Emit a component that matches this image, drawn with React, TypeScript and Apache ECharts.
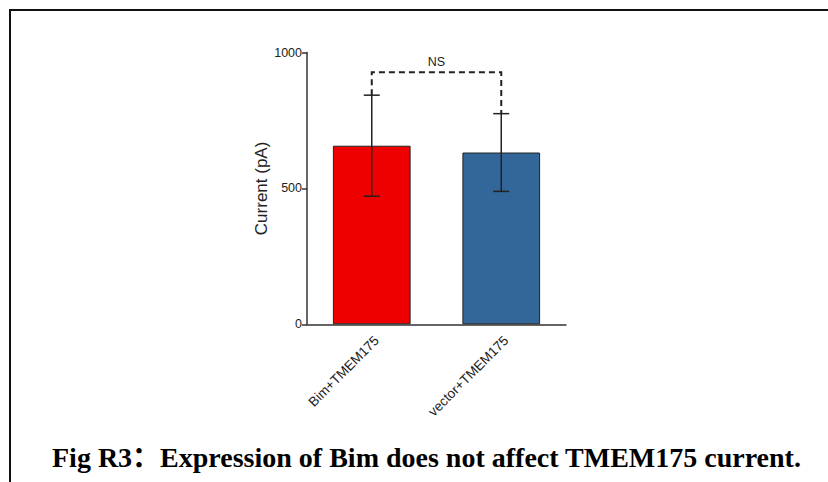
import React, { useEffect, useRef } from "react";
import * as echarts from "echarts";

const categories = ["Bim+TMEM175", "vector+TMEM175"];
const means = [657, 632];
const errors = [186, 143];
const barColors = ["#ee0000", "#336699"];
const yTicks = [0, 500, 1000];
const bracketLevel = 927;
const bracketLabel = "NS";
const yAxisName = "Current (pA)";
const caption = "Fig R3\uFF1AExpression of Bim does not affect TMEM175 current.";

export default function App() {
  const ref = useRef<HTMLDivElement>(null);
  useEffect(() => {
    document.body.style.margin = "0";
    const chart = echarts.init(ref.current!, null, { renderer: "svg" });
    const font = "Liberation Sans, Arial, sans-serif";
    const errData = means.map((m, i) => [i, m - errors[i], m + errors[i]]);
    const option: any = {
      animation: false,
      backgroundColor: "#ffffff",
      grid: { left: 307, right: 262, top: 52.5, bottom: 157.7 },
      xAxis: {
        type: "category",
        data: categories,
        axisLine: { lineStyle: { color: "#333", width: 1.5 } },
        axisTick: { alignWithLabel: true, length: 5, lineStyle: { color: "#333", width: 1.5 } },
        axisLabel: {
          rotate: 45,
          fontFamily: font,
          fontSize: 13.5,
          color: "#222",
          margin: 9,
          verticalAlign: "top",
        },
      },
      yAxis: {
        type: "value",
        min: yTicks[0],
        max: yTicks[yTicks.length - 1],
        interval: yTicks[1] - yTicks[0],
        name: yAxisName,
        nameLocation: "middle",
        nameGap: 36,
        nameTextStyle: { fontFamily: font, fontSize: 17, color: "#222" },
        axisLine: { show: true, lineStyle: { color: "#333", width: 1.5 } },
        axisTick: { show: true, length: 5, lineStyle: { color: "#333", width: 1.5 } },
        axisLabel: {
          fontFamily: font,
          fontSize: 12.5,
          color: "#222",
          margin: 5,
          formatter: (v: number) => String(v),
        },
        splitLine: { show: false },
      },
      series: [
        {
          type: "bar",
          barWidth: "60%",
          data: means.map((v, i) => ({
            value: v,
            itemStyle: { color: barColors[i], borderColor: "#222", borderWidth: 1 },
          })),
          z: 2,
        },
        {
          type: "custom",
          z: 3,
          data: errData,
          renderItem: (params: any, api: any) => {
            const x = api.value(0);
            const lo = api.coord([x, api.value(1)]);
            const hi = api.coord([x, api.value(2)]);
            const hw = 8;
            const style = { stroke: "#222", lineWidth: 1.5, fill: "none" };
            return {
              type: "group",
              children: [
                { type: "line", shape: { x1: hi[0], y1: hi[1], x2: lo[0], y2: lo[1] }, style },
                { type: "line", shape: { x1: hi[0] - hw, y1: hi[1], x2: hi[0] + hw, y2: hi[1] }, style },
                { type: "line", shape: { x1: lo[0] - hw, y1: lo[1], x2: lo[0] + hw, y2: lo[1] }, style },
              ],
            };
          },
        },
        {
          type: "custom",
          z: 3,
          data: [[0, 1, bracketLevel, means[0] + errors[0], means[1] + errors[1]]],
          renderItem: (params: any, api: any) => {
            const a = api.value(0);
            const b = api.value(1);
            const lvl = api.value(2);
            const p1 = api.coord([a, api.value(3)]);
            const p2 = api.coord([a, lvl]);
            const p3 = api.coord([b, lvl]);
            const p4 = api.coord([b, api.value(4)]);
            return {
              type: "group",
              children: [
                {
                  type: "polyline",
                  shape: { points: [p1, p2, p3, p4] },
                  style: { stroke: "#222", lineWidth: 2, fill: "none", lineDash: [6, 4] },
                },
                {
                  type: "text",
                  x: (p2[0] + p3[0]) / 2,
                  y: p2[1] - 4,
                  style: {
                    text: bracketLabel,
                    fontFamily: font,
                    fontSize: 12.5,
                    fill: "#222",
                    align: "center",
                    verticalAlign: "bottom",
                  },
                },
              ],
            };
          },
        },
      ],
      graphic: [
        { type: "line", shape: { x1: 9, y1: 10, x2: 828, y2: 10 }, style: { stroke: "#111", lineWidth: 2 } },
        { type: "line", shape: { x1: 10, y1: 9, x2: 10, y2: 482 }, style: { stroke: "#111", lineWidth: 2 } },
        {
          type: "text",
          left: 52,
          top: 443,
          style: {
            text: caption,
            fontFamily: "Liberation Serif, Noto Sans CJK SC, serif",
            fontWeight: "bold",
            fontSize: 28,
            fill: "#000",
          },
        },
      ],
    };
    chart.setOption(option);
    return () => chart.dispose();
  }, []);
  return <div ref={ref} style={{ width: 828, height: 482 }} />;
}
